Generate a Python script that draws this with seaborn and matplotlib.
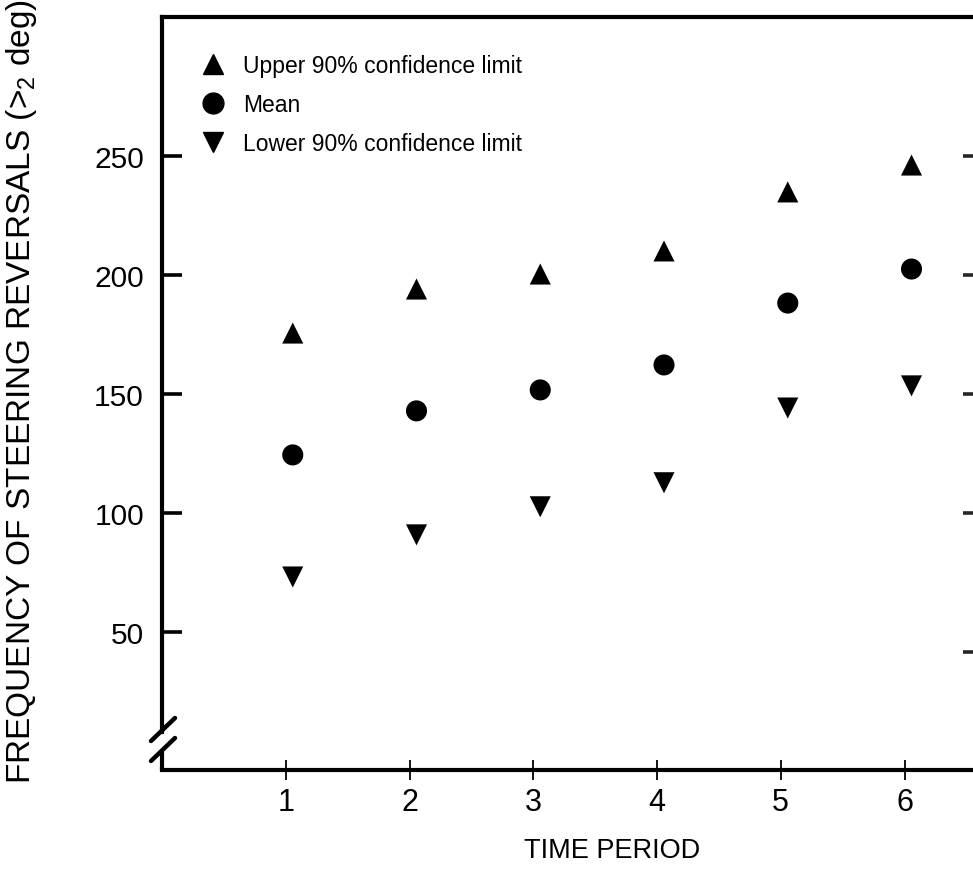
import numpy as np
import pandas as pd
import matplotlib
matplotlib.use("Agg")
import matplotlib.pyplot as plt
import matplotlib.transforms as mtransforms
from matplotlib.lines import Line2D
import seaborn as sns

# ---- data ----
periods = [1, 2, 3, 4, 5, 6]
upper_90 = [175.8, 194.3, 200.6, 210.3, 235.1, 246.4]
mean_vals = [124.6, 143.1, 151.9, 162.4, 188.4, 202.7]
lower_90 = [73.3, 91.0, 102.8, 112.9, 144.3, 153.6]
series_labels = ["Upper 90% confidence limit", "Mean", "Lower 90% confidence limit"]
y_ticks = [50, 100, 150, 200, 250]
right_ticks = [41.6, 100, 150, 200, 250]

sns.set_theme(style="white")
plt.rcParams["font.family"] = ["Liberation Sans", "DejaVu Sans"]
plt.rcParams["mathtext.fontset"] = "custom"
plt.rcParams["mathtext.rm"] = "Liberation Sans"
plt.rcParams["text.color"] = "black"

df = pd.DataFrame({
    "period": periods * 3,
    "value": upper_90 + mean_vals + lower_90,
    "series": [series_labels[0]] * 6 + [series_labels[1]] * 6 + [series_labels[2]] * 6,
})

fig = plt.figure(figsize=(9.73, 8.70), dpi=100)
W, H = 973, 870
left, right, top, bottom = 162, 980, 18, 771
ax = fig.add_axes([left / W, 1 - bottom / H, (right - left) / W, (bottom - top) / H])

markers = {series_labels[0]: "^", series_labels[1]: "o", series_labels[2]: "v"}
sns.scatterplot(data=df, x="period", y="value", style="series", markers=markers,
                color="black", s=230, linewidth=0, ax=ax, legend=False, zorder=3)
# markers sit slightly right of the tick marks in the reference
shift = mtransforms.ScaledTranslation(7 / 100, 0, fig.dpi_scale_trans)
for coll in ax.collections:
    coll.set_offset_transform(ax.transData + shift)
    coll.set_clip_on(False)

ax.set_xlim(0, 6.61)
ax.set_ylim(-7.8, 308.6)

ax.set_xticks(periods)
ax.set_xticklabels([str(p) for p in periods])
ax.set_yticks(y_ticks)
ax.set_yticklabels([str(v) for v in y_ticks])

ax.tick_params(axis="y", direction="in", length=14.5, width=2.6, pad=13,
               labelsize=21.5, colors="black", left=True)
ax.tick_params(axis="x", direction="inout", length=15, width=1.3, pad=5,
               labelsize=22, colors="black", bottom=True)

for side in ["top", "bottom", "left", "right"]:
    ax.spines[side].set_color("black")
    ax.spines[side].set_linewidth(3)
ax.spines["right"].set_visible(False)

# broken left axis
ax.spines["left"].set_bounds(ax.get_ylim()[1], -7.8 + (771 - 733) / 2.38)
tA = ax.transAxes
ax.add_line(Line2D([0, 0], [0, (771 - 753) / 753], transform=tA, color="black",
                   lw=3, clip_on=False, solid_capstyle="butt"))
for y0 in [(771 - 742) / 753, (771 - 762) / 753]:
    ax.add_line(Line2D([-11 / 818, 13 / 818], [y0, y0 + 23 / 753], transform=tA,
                       color="black", lw=3.2, clip_on=False, solid_capstyle="round"))

# right-hand ticks (unlabelled)
ax2 = ax.twinx()
ax2.set_ylim(ax.get_ylim())
ax2.set_yticks(right_ticks)
ax2.set_yticklabels([])
ax2.tick_params(axis="y", direction="in", length=12, width=2.6, right=True)
for side in ["top", "bottom", "left", "right"]:
    ax2.spines[side].set_visible(False)
ax2.grid(False)

ax.set_xlabel("TIME PERIOD", fontsize=19.5, color="black")
ax.xaxis.set_label_coords((612 - left) / (right - left), -(851 - bottom) / (bottom - top))
ax.xaxis.label.set_va("center")
ax.set_ylabel("FREQUENCY OF STEERING REVERSALS (>$_2$ deg)", fontsize=24, color="black")
ax.yaxis.set_label_coords(-(left - 22) / (right - left), (771 - 392) / (bottom - top))
ax.yaxis.label.set_va("center")

handles = [Line2D([], [], marker=markers[s], color="black", linestyle="none",
                  markersize=15) for s in series_labels]
leg = ax.legend(handles, series_labels, loc="upper left", frameon=False, fontsize=16.5,
                bbox_to_anchor=((202 - left) / (right - left), 1 - (55 - top) / (bottom - top)),
                borderaxespad=0, handlelength=1.0, handletextpad=0.8, labelspacing=0.7,
                borderpad=0)
for t in leg.get_texts():
    t.set_color("black")

fig.savefig("out.png", dpi=100)
